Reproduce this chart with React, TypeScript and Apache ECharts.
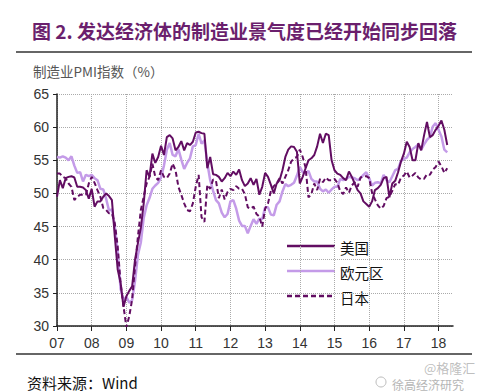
import React, { useEffect, useRef } from "react";
import * as echarts from "echarts";

// Monthly manufacturing PMI, Jan 2007 – Apr 2018
const usPMI = [
  49.5, 52.0, 50.8, 52.3, 52.5, 52.6, 52.4, 51.0, 51.0, 50.9, 50.5, 49.2,
  50.7, 48.0, 48.8, 48.8, 49.5, 50.0, 49.6, 49.0, 43.5, 38.5, 36.5, 32.9,
  34.5, 35.3, 36.0, 40.0, 42.5, 44.8, 48.5, 53.5, 52.5, 56.0, 54.6, 55.5,
  57.2, 55.8, 58.5, 58.8, 58.3, 56.5, 57.0, 57.9, 56.5, 57.6, 57.3, 57.8,
  59.2, 59.3, 59.1, 59.0, 53.8, 55.5, 52.9, 52.8, 52.5, 51.8, 52.3, 53.1,
  52.6, 53.3, 52.8, 53.6, 52.0, 51.1, 51.5, 52.3, 51.3, 52.2, 49.8, 51.0,
  53.1, 52.5, 51.3, 50.0, 51.5, 52.0, 53.5, 55.5, 56.6, 57.1, 57.0, 56.3,
  51.5, 52.5, 53.8, 55.0, 55.3, 55.8, 57.1, 59.0, 57.6, 59.0, 58.8, 55.0,
  53.5, 53.0, 52.8, 52.3, 52.0, 53.3, 52.5, 51.5, 50.5, 50.0, 48.8, 48.4,
  48.0, 48.8, 50.5, 50.8, 51.3, 52.3, 52.5, 49.4, 51.5, 51.9, 53.2, 54.8,
  56.0, 57.8, 57.0, 55.0, 55.0, 57.6, 56.5, 58.8, 60.8, 58.5, 58.8, 59.6,
  60.2, 61.0, 59.6, 57.3,
];

const euroPMI = [
  55.5, 55.4, 55.6, 55.4, 55.0, 55.6, 54.2, 53.1, 53.2, 51.8, 52.8, 52.6,
  52.8, 52.3, 52.0, 50.7, 50.6, 49.2, 47.4, 47.6, 45.0, 41.1, 35.6, 33.9,
  34.4, 33.5, 33.9, 36.8, 40.7, 42.6, 46.3, 48.2, 49.3, 50.7, 51.2, 51.6,
  52.4, 54.2, 56.6, 57.6, 55.8, 55.6, 56.7, 55.1, 53.7, 54.6, 55.3, 57.1,
  57.3, 59.0, 57.5, 58.0, 54.6, 52.0, 50.4, 49.0, 48.5, 47.1, 46.4, 46.9,
  48.8, 49.0, 47.7, 45.9, 45.1, 45.1, 44.0, 45.1, 46.1, 45.4, 46.2, 46.1,
  47.9, 47.9, 46.8, 46.7, 48.3, 48.8, 50.3, 51.4, 51.1, 51.3, 51.6, 52.7,
  54.0, 53.2, 53.0, 53.4, 52.2, 51.8, 51.8, 50.7, 50.3, 50.6, 50.1, 50.6,
  51.0, 51.0, 52.2, 52.0, 52.2, 52.5, 52.4, 52.3, 52.0, 52.3, 52.8, 53.2,
  52.3, 51.2, 51.6, 51.7, 51.5, 52.8, 52.0, 51.7, 52.6, 53.5, 53.7, 54.9,
  55.2, 55.4, 56.2, 56.7, 57.0, 57.4, 56.6, 57.4, 58.1, 58.5, 60.1, 60.6,
  59.6, 58.6, 56.6, 56.2,
];

const japanPMI = [
  53.0, 53.0, 52.5, 52.3, 51.5, 51.0, 49.0, 49.5, 49.8, 49.8, 49.8, 51.5,
  52.5, 51.6, 50.5, 49.5, 47.8, 47.5, 47.0, 47.0, 45.5, 42.0, 36.5, 33.0,
  29.8, 31.5, 34.0, 39.0, 43.5, 47.5, 49.5, 51.5, 52.5, 54.5, 52.5, 52.0,
  53.5, 52.5, 52.3, 53.0, 54.5, 53.5, 51.0, 49.8, 48.5, 47.5, 47.3, 48.5,
  51.0, 52.8, 46.4, 45.7, 51.3, 50.7, 52.1, 51.9, 49.3, 50.6, 49.1, 50.2,
  50.7, 50.5, 51.1, 50.7, 50.7, 49.9, 47.9, 47.7, 48.0, 46.9, 46.5, 45.0,
  47.7, 48.5, 50.4, 51.1, 51.5, 52.3, 51.5, 52.5, 53.5, 54.8, 55.3, 55.5,
  56.6, 55.5, 53.9, 49.4, 49.9, 51.5, 50.5, 52.2, 51.7, 52.4, 52.0, 52.0,
  52.2, 51.6, 50.3, 49.9, 50.9, 50.1, 51.2, 51.7, 51.0, 52.4, 52.6, 52.6,
  52.3, 50.1, 49.1, 48.2, 47.7, 48.1, 49.3, 49.5, 50.4, 51.4, 51.3, 52.4,
  52.7, 53.3, 52.4, 52.7, 53.1, 52.4, 52.1, 52.2, 52.9, 52.8, 53.6, 54.0,
  54.8, 54.1, 53.1, 53.8,
];

const startYear = 2007;
const monthCount = 138; // Jan 2007 .. Jun 2018 (axis extent)
const months: string[] = [];
for (let i = 0; i < monthCount; i++) {
  const y = startYear + Math.floor(i / 12);
  const m = (i % 12) + 1;
  months.push(`${y}-${m < 10 ? "0" + m : m}`);
}

const seriesNames = ["美国", "欧元区", "日本"];
const titleText = "图 2. 发达经济体的制造业景气度已经开始同步回落";
const yAxisTitle = "制造业PMI指数（%）";
const sourceText = "资料来源：Wind";

const FONT = "Liberation Sans, Arial, Noto Sans CJK SC, sans-serif";
const CJK = "Noto Sans CJK SC, sans-serif";
const DARK = "#620d62";
const LIGHT = "#c49be8";

const legendItems = [
  { name: seriesNames[0], color: DARK, width: 2.5, dash: null as number[] | null },
  { name: seriesNames[1], color: LIGHT, width: 2.5, dash: null as number[] | null },
  { name: seriesNames[2], color: DARK, width: 2.5, dash: [5, 3] },
];

export default function App() {
  const ref = useRef<HTMLDivElement>(null);
  useEffect(() => {
    if (!ref.current) return;
    const chart = echarts.init(ref.current, null, { renderer: "svg" });
    const legendGraphics: any[] = [];
    legendItems.forEach((it, i) => {
      const cy = 246 + i * 25;
      legendGraphics.push({
        type: "line",
        shape: { x1: 287, y1: cy, x2: 335, y2: cy },
        style: {
          stroke: it.color,
          lineWidth: it.width,
          lineDash: it.dash || undefined,
        },
      });
      legendGraphics.push({
        type: "text",
        x: 340,
        y: cy + 1,
        style: {
          text: it.name,
          fontSize: 14.5,
          fill: "#111",
          fontFamily: CJK,
          verticalAlign: "middle",
        },
      });
    });
    chart.setOption({
      animation: false,
      backgroundColor: "#ffffff",
      textStyle: { fontFamily: FONT },
      title: {
        text: titleText,
        left: 27,
        top: 16,
        textStyle: {
          fontFamily: CJK,
          fontSize: 19,
          fontWeight: "bold",
          color: "#6b1f6d",
        },
      },
      grid: { left: 57, right: 25, top: 94, bottom: 65 },
      xAxis: {
        type: "category",
        data: months,
        boundaryGap: false,
        axisLine: { lineStyle: { color: "#222", width: 1.5 } },
        axisTick: { interval: 11, length: 5, lineStyle: { color: "#222" } },
        axisLabel: {
          interval: 11,
          margin: 10,
          fontSize: 14,
          fontFamily: FONT,
          color: "#333",
          formatter: (v: string) => (v.slice(5) === "01" ? v.slice(2, 4) : ""),
        },
        splitLine: {
          show: true,
          interval: 11,
          lineStyle: { color: "#aaa", type: "dotted", width: 1 },
        },
      },
      yAxis: {
        type: "value",
        min: 30,
        max: 65,
        interval: 5,
        axisLine: { show: true, lineStyle: { color: "#222", width: 1.5 } },
        axisTick: { show: true, length: 4, lineStyle: { color: "#222" } },
        axisLabel: { fontSize: 14, color: "#333", margin: 8, fontFamily: FONT },
        splitLine: { lineStyle: { color: "#aaa", type: "dotted", width: 1 } },
      },
      series: [
        {
          name: seriesNames[1],
          type: "line",
          data: euroPMI,
          symbol: "none",
          showSymbol: false,
          lineStyle: { color: LIGHT, width: 2.5 },
          itemStyle: { color: LIGHT },
          z: 2,
        },
        {
          name: seriesNames[2],
          type: "line",
          data: japanPMI,
          symbol: "none",
          showSymbol: false,
          lineStyle: { color: DARK, width: 2, type: [5, 3] },
          itemStyle: { color: DARK },
          z: 3,
        },
        {
          name: seriesNames[0],
          type: "line",
          data: usPMI,
          symbol: "none",
          showSymbol: false,
          lineStyle: { color: DARK, width: 2 },
          itemStyle: { color: DARK },
          z: 4,
        },
      ],
      graphic: [
        {
          type: "line",
          shape: { x1: 16, y1: 52, x2: 472, y2: 52 },
          style: { stroke: "#333", lineWidth: 1.5 },
        },
        {
          type: "line",
          shape: { x1: 16, y1: 354, x2: 472, y2: 354 },
          style: { stroke: "#333", lineWidth: 1.5 },
        },
        {
          type: "text",
          x: 33,
          y: 71,
          style: {
            text: yAxisTitle,
            fontSize: 13.5,
            fill: "#555",
            fontFamily: CJK,
            verticalAlign: "middle",
          },
        },
        {
          type: "text",
          x: 27,
          y: 382,
          style: {
            text: sourceText,
            fontSize: 15,
            fill: "#111",
            fontFamily: CJK,
            verticalAlign: "middle",
          },
        },
        {
          type: "circle",
          shape: { cx: 381, cy: 382, r: 5 },
          style: { fill: "none", stroke: "#bbb", lineWidth: 1 },
        },
        {
          type: "text",
          x: 392,
          y: 384,
          style: {
            text: "徐高经济研究",
            fontSize: 12,
            fill: "#b5b5b5",
            fontFamily: CJK,
            verticalAlign: "middle",
          },
        },
        {
          type: "text",
          x: 424,
          y: 367,
          style: {
            text: "@格隆汇",
            fontSize: 13,
            fill: "rgba(170,170,170,0.75)",
            fontFamily: CJK,
            verticalAlign: "middle",
          },
        },
        ...legendGraphics,
      ],
    });
    return () => chart.dispose();
  }, []);
  return (
    <div
      ref={ref}
      style={{ position: "fixed", left: 0, top: 0, width: 478, height: 391 }}
    />
  );
}
